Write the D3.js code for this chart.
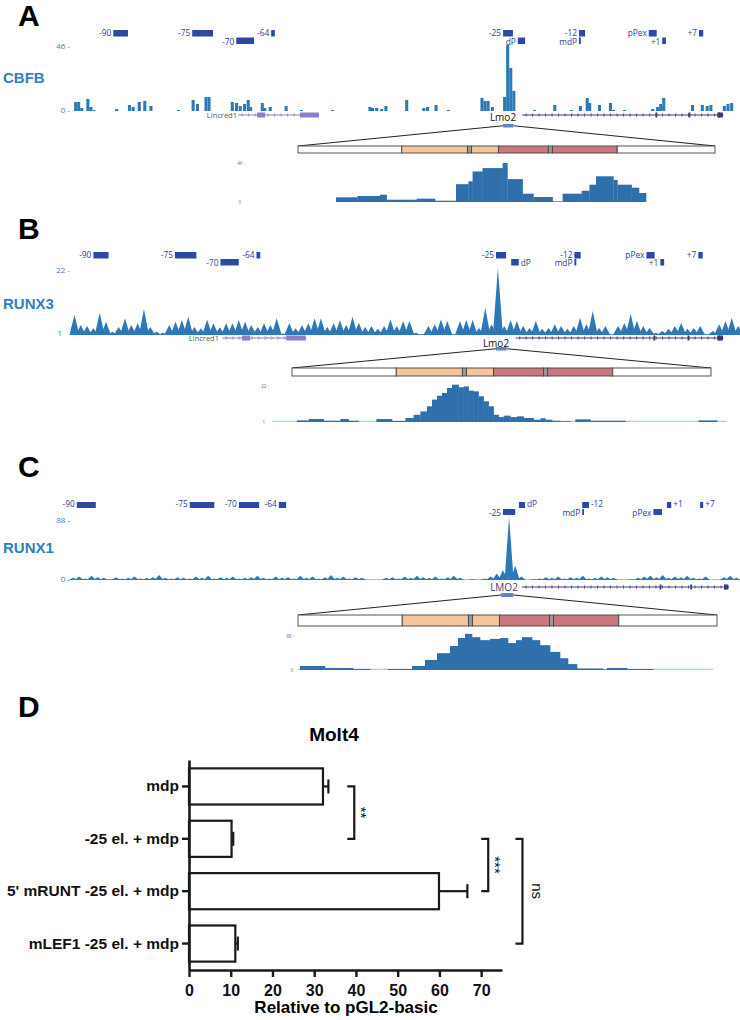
<!DOCTYPE html>
<html>
<head>
<meta charset="utf-8">
<script src="https://cdn.jsdelivr.net/npm/d3@7"></script>
<style>
  body { margin: 0; background: #fff; }
  svg { display: block; }
</style>
</head>
<body>
<div id="fig"></div>
<script>
// ---------------- data ----------------
// enhancer / promoter elements (kb from Lmo2 proximal promoter)
const enhNames = ['-90', '-75', '-70', '-64', '-25', 'dP', '-12', 'mdP', 'pPex', '+1', '+7'];
const mouseEnhStart = [-89.5, -76.6, -69.4, -63.7, -25.8, -23.4, -13.4, -13.4, -2.0, 0.2, 6.2];
const mouseEnhEnd   = [-87.1, -73.2, -66.5, -63.1, -24.2, -22.2, -12.4, -13.1, -0.7, 0.8, 6.9];
const humanEnhStart = [-95.4, -77.0, -69.0, -62.5, -26.0, -23.4, -13.1, -13.1, -1.5, 0.7, 6.1];
const humanEnhEnd   = [-92.3, -73.0, -65.7, -61.3, -24.0, -22.4, -12.0, -12.8, -0.1, 1.4, 6.6];

// gene models (kb)
const lincredSpan = [-69.1, -55.9];
const lincredExons = [[-66.0, -64.7], [-59.0, -55.9]];
const lmo2Span = [-22.7, 10.1];
const lmo2Exons = [[-0.9, -0.6], [4.5, 4.8], [9.2, 10.1]];
const humanLmo2Span = [-22.9, 10.7];
const humanLmo2Exons = [[-0.5, -0.2], [4.5, 4.8], [10.0, 10.7]];
const mouseZoom = [-25.8, -24.1];
const humanZoom = [-26.3, -24.3];

// CBFB ChIP-seq (0.5 kb bins: start kb, signal)
const cbfbStart = [-95.9, -95.4, -94.9, -93.9, -93.4, -92.9, -89.2, -87.1, -86.5, -85.5,
  -84.6, -83.6, -79.1, -76.7, -76.0, -74.6, -74.1, -70.3, -69.6, -69.0,
  -68.3, -67.7, -67.3, -65.4, -65.0, -64.1, -61.5, -59.0, -53.9, -47.8,
  -47.4, -46.7, -45.9, -45.2, -41.8, -39.0, -38.4, -37.0, -35.0, -29.5,
  -29.0, -28.5, -27.8, -25.8, -25.3, -24.8, -24.3, -20.9, -17.6,
  -14.9, -13.4, -12.3, -11.9, -10.3, -8.5, -8.0, -6.2, -1.6, -0.8,
  -0.3, 0.2, 4.9, 6.5, 7.3, 7.9, 10.1, 10.7, 11.3];
const cbfbValue = [6.3, 6.3, 2.1, 8.4, 2.8, 0.7, 1.4, 4.2, 2.8, 6.3,
  7.0, 3.5, 0.7, 7.7, 4.9, 9.8, 9.8, 6.3, 5.6, 3.5,
  4.9, 7.7, 2.8, 5.6, 2.1, 2.8, 3.5, 0.7, 0.7, 2.8,
  2.1, 2.1, 1.4, 3.5, 7.7, 2.1, 2.8, 4.2, 0.7, 9.1,
  7.0, 7.0, 2.8, 9.8, 46, 30, 14, 0.7, 4.2,
  0.7, 3.5, 9.1, 5.6, 4.2, 5.6, 0.7, 0.7, 1.4, 2.8,
  4.9, 9.1, 4.2, 4.2, 3.5, 4.2, 3.5, 4.9, 5.6];

// RUNX3 ChIP-seq, 1 kb bins from -93 kb
const runx3From = -93;
const runx3Values = [7.2, 4.1, 3.8, 3.1, 7.9, 5.1, 2.0, 3.5, 6.2, 4.1,
  4.6, 9.0, 3.5, 2.0, 1.7, 4.1, 5.1, 5.6, 6.6, 3.5,
  3.1, 5.8, 4.6, 3.4, 4.6, 4.6, 5.6, 5.1, 4.1, 3.5,
  4.6, 4.1, 6.2, 1.5, 4.6, 3.1, 4.1, 4.6, 6.2, 6.2,
  3.5, 4.6, 5.6, 4.1, 6.6, 4.8, 3.5, 3.8, 2.9, 3.8,
  5.9, 3.8, 5.3, 5.3, 1.7, 1.2, 3.8, 4.3, 5.9, 5.3,
  1.2, 5.3, 5.6, 5.6, 3.2, 9.3, 4.3, 21.7, 3.8, 5.6,
  5.3, 3.8, 3.2, 5.3, 2.9, 3.2, 4.3, 3.8, 2.9, 3.8,
  6.3, 4.3, 8.4, 3.2, 3.8, 1.2, 3.8, 4.7, 7.5, 5.3,
  3.8, 3.2, 1.7, 2.2, 2.9, 3.8, 4.7, 2.9, 3.2, 3.8,
  1.2, 2.2, 4.3, 5.3, 6.3, 3.8];

// RUNX1 ChIP-seq, 1 kb bins from -96.5 kb
const runx1From = -96.5;
const runx1Values = [3, 5, 2, 6, 4, 3, 1, 4, 2, 3,
  5, 2, 3, 4, 7, 3, 2, 4, 3, 2,
  5, 3, 6, 2, 4, 3, 5, 2, 3, 4,
  6, 3, 2, 5, 3, 4, 2, 6, 3, 5,
  2, 4, 7, 3, 5, 2, 4, 3, 0, 0,
  0, 3, 4, 2, 5, 3, 6, 4, 3, 5,
  2, 4, 6, 3, 0, 1, 0, 2, 5, 9,
  14, 88, 20, 5, 0, 1, 2, 4, 3, 5,
  2, 4, 3, 6, 2, 3, 5, 4, 3, 0,
  0, 1, 3, 5, 6, 4, 7, 3, 5, 4,
  6, 3, 2, 5, 0, 0, 4, 6, 3];

// -25 element close-ups (bp from start of view: step starts, signal)
const insetAStart = [0, 107, 220, 253, 403, 495, 600, 662, 683, 733, 833, 857, 933, 987, 1083, 1133, 1228, 1267, 1300, 1387, 1407, 1478, 1515];
const insetAValue = [5.5, 7.1, 8.6, 2.7, 3.9, 1.5, 21, 24.4, 36, 40, 46, 27, 9.8, 5.9, 0.8, 9.8, 13.3, 20.4, 30.3, 26, 20.4, 16.9, 10.6];
const insetAEnd = 1550;
const insetBStart = [0, 125, 183, 258, 342, 383, 433, 522, 600, 667, 708, 742, 775, 800, 825, 850, 875, 900, 933, 958,
  983, 1008, 1033, 1058, 1083, 1108, 1133, 1158, 1192, 1225, 1258, 1308, 1342, 1367, 1400, 1442, 1492, 1517, 1592, 1767, 2133, 2225];
const insetBValue = [1, 1.9, 2.7, 1.7, 2.7, 1.7, 1, 2.7, 1.6, 3.3, 5.1, 7.0, 9.9, 13.7, 15.9, 17.5, 20.3, 22.2, 20.7, 21.2,
  18.8, 18.4, 15.6, 12.7, 9.9, 5.1, 3.8, 4.6, 3.8, 4.2, 3.3, 2.3, 3.1, 2.3, 1.7, 1.4, 1, 2.5, 1.7, 1, 1.9, 1];
const insetBEnd = 2275;
const insetCStart = [0, 10, 135, 275, 360, 450, 570, 635, 695, 760, 800, 835, 870, 910, 960, 1010, 1050, 1090, 1120, 1170,
  1210, 1260, 1310, 1350, 1395, 1525, 1545, 1645, 1775];
const insetCValue = [0, 9.5, 4.8, 2.4, 0, 2.4, 9.5, 24, 40, 57, 76, 86, 78, 71, 74, 76, 64, 71, 78, 71,
  59, 43, 28, 14, 3.6, 1.2, 4.8, 2.4, 0];
const insetCEnd = 2075;

// -25 element sub-regions (bp)
const elementBounds = [0, 520, 850, 870, 1005, 1255, 1275, 1600, 2090];
const elementKinds = ['flank', 'a', 'site', 'a', 'b', 'site', 'b', 'flank'];

// luciferase assay, Molt4
const constructs = ['mdp', '-25 el. + mdp', "5' mRUNT -25 el. + mdp", 'mLEF1 -25 el. + mdp'];
const means = [32.1, 10.2, 59.9, 11.1];
const sems = [1.3, 0.4, 6.8, 0.6];
const xTicks = [0, 10, 20, 30, 40, 50, 60, 70];
const sigFrom = [0, 1, 1];
const sigTo = [1, 2, 3];
const sigAt = [39.6, 71.7, 79.9];
const sigText = ['**', '***', 'ns'];

// ---------------- drawing ----------------
const W = 740, H = 1020;
const svg = d3.select('#fig').append('svg').attr('width', W).attr('height', H);

const sans = "'Open Sans', 'DejaVu Sans', sans-serif";
const arial = "'Liberation Sans', Arial, sans-serif";
const trackBlue = '#2b79b9';
const insetBlue = '#2e6fac';
const navy = '#2e48a6';
const kindFill = { flank: '#ffffff', a: '#f4c59c', site: '#9b9b9b', b: '#c9787f' };

function panelLetter(t, y) {
  svg.append('text').attr('x', 18).attr('y', y)
    .style('font-family', arial).style('font-weight', 'bold').style('font-size', '30px')
    .text(t);
}

function factorLabel(t, y) {
  svg.append('text').attr('x', 3).attr('y', y)
    .style('font-family', arial).style('font-weight', 'bold').style('font-size', '15px')
    .style('fill', '#2f7fc1').text(t);
}

function scaleLabel(t, x, y, size) {
  svg.append('text').attr('x', x).attr('y', y).attr('text-anchor', 'end')
    .style('font-family', sans).style('font-size', size + 'px').style('fill', '#3d78b8')
    .text(t);
}

function enhancers(x, starts, ends, y1, y2, h, row2, right) {
  enhNames.forEach((n, i) => {
    const a = x(starts[i]), b = x(ends[i]);
    const second = row2.includes(n);
    const y = second ? y2 : y1;
    svg.append('rect').attr('x', a).attr('y', y)
      .attr('width', Math.max(1.6, b - a)).attr('height', h).attr('fill', navy);
    const r = right.includes(n);
    svg.append('text').attr('x', r ? b + 2 : a - 2).attr('y', second ? y + h + 0.5 : y + h - 0.8)
      .attr('text-anchor', r ? 'start' : 'end')
      .style('font-family', sans).style('font-size', '8.3px').style('fill', '#2d3d98')
      .text(n);
  });
}

function geneModel(x, span, exons, y, color, chevron, arrow) {
  const a = x(span[0]), b = x(span[1]);
  svg.append('line').attr('x1', a).attr('x2', b).attr('y1', y).attr('y2', y)
    .attr('stroke', color).attr('stroke-width', 1);
  const marks = d3.range(a + 4, b - 4, 6.5);
  svg.selectAll(null).data(marks).join('path')
    .attr('d', m => chevron
      ? `M${m - 1},${y - 1.6}L${m + 1},${y}L${m - 1},${y + 1.6}`
      : `M${m},${y - 1.6}L${m},${y + 1.6}`)
    .attr('fill', 'none').attr('stroke', color).attr('stroke-width', 0.8);
  svg.selectAll(null).data(exons).join('rect')
    .attr('x', d => x(d[0])).attr('width', d => Math.max(1.5, x(d[1]) - x(d[0])))
    .attr('y', y - 2.5).attr('height', 5).attr('fill', color);
  if (arrow) {
    svg.append('path').attr('d', `M${b - 4},${y - 3}L${b + 1},${y}L${b - 4},${y + 3}Z`).attr('fill', color);
  }
}

function geneName(t, x, y, size, color, anchor) {
  svg.append('text').attr('x', x).attr('y', y).attr('text-anchor', anchor)
    .style('font-family', sans).style('font-size', size + 'px').style('fill', color).text(t);
}

function spikeTrack(x, y, from, values, base, w) {
  svg.append('line').attr('x1', 70).attr('x2', 740).attr('y1', base - 0.5).attr('y2', base - 0.5)
    .attr('stroke', '#9cbfe0').attr('stroke-width', 1);
  svg.selectAll(null).data(values).join('path')
    .attr('d', (v, i) => {
      const xc = x(from + i + 0.5);
      return `M${xc - w / 2},${base}L${xc},${y(v)}L${xc + w / 2},${base}Z`;
    })
    .attr('fill', trackBlue);
}

function zoomDiagram(box, boxY, boxH, x0, x1, top, h) {
  const bp = d3.scaleLinear().domain([0, elementBounds[elementBounds.length - 1]]).range([x0, x1]);
  svg.append('line').attr('x1', box[0]).attr('y1', boxY + boxH / 2).attr('x2', x0).attr('y2', top)
    .attr('stroke', '#222').attr('stroke-width', 1);
  svg.append('line').attr('x1', box[1]).attr('y1', boxY + boxH / 2).attr('x2', x1).attr('y2', top)
    .attr('stroke', '#222').attr('stroke-width', 1);
  svg.append('rect').attr('x', box[0]).attr('y', boxY).attr('width', box[1] - box[0]).attr('height', boxH)
    .attr('fill', '#5b88c6');
  svg.selectAll(null).data(elementKinds).join('rect')
    .attr('x', (k, i) => bp(elementBounds[i]))
    .attr('width', (k, i) => bp(elementBounds[i + 1]) - bp(elementBounds[i]))
    .attr('y', top).attr('height', h)
    .attr('fill', k => kindFill[k]).attr('stroke', '#444').attr('stroke-width', 0.9);
}

function inset(x0, x1, base, top, yDom, starts, values, end, withLine) {
  const bx = d3.scaleLinear().domain([0, end]).range([x0, x1]);
  const by = d3.scaleLinear().domain(yDom).range([base, top]);
  if (withLine) {
    svg.append('line').attr('x1', x0).attr('x2', x1).attr('y1', base - 0.6).attr('y2', base - 0.6)
      .attr('stroke', '#a9c8e6').attr('stroke-width', 1.3);
  }
  svg.selectAll(null).data(values).join('rect')
    .attr('x', (v, i) => bx(starts[i]))
    .attr('width', (v, i) => bx(i + 1 < starts.length ? starts[i + 1] : end) - bx(starts[i]) + 0.3)
    .attr('y', v => by(v)).attr('height', v => base - by(v))
    .attr('fill', insetBlue);
}

// ----- Panel A : CBFB -----
panelLetter('A', 26);
const xA = d3.scaleLinear().domain([-96.57, 12.91]).range([70, 740]);
const yA = d3.scaleLinear().domain([0, 46]).range([111, 45]);
enhancers(xA, mouseEnhStart, mouseEnhEnd, 30, 37.5, 6.5, ['-70', 'dP', 'mdP', '+1'], []);
scaleLabel('46 -', 70, 49, 8);
scaleLabel('0 -', 70, 113, 8);
factorLabel('CBFB', 83);
svg.selectAll(null).data(cbfbStart).join('rect')
  .attr('x', d => xA(d)).attr('width', d => xA(d + 0.5) - xA(d))
  .attr('y', (d, i) => yA(cbfbValue[i])).attr('height', (d, i) => 111 - yA(cbfbValue[i]))
  .attr('fill', trackBlue);
geneName('Lincred1', 237, 118, 7.5, '#555', 'end');
geneModel(xA, lincredSpan, lincredExons, 115, '#8b80c9', false, false);
geneName('Lmo2', 503, 121, 10, '#111', 'middle');
geneModel(xA, lmo2Span, lmo2Exons, 115, '#3b3a6e', false, true);
zoomDiagram([xA(mouseZoom[0]), xA(mouseZoom[1])], 124, 3.5, 298, 715, 146, 7);
inset(336, 646, 202, 163, [0, 46], insetAStart, insetAValue, insetAEnd, false);
scaleLabel('46 -', 245, 165, 4.5);
scaleLabel('0', 241, 204, 4.5);

// ----- Panel B : RUNX3 -----
panelLetter('B', 239);
const xB = d3.scaleLinear().domain([-93.2, 12.8]).range([70, 740]);
const yB = d3.scaleLinear().domain([1, 22]).range([335, 267]);
enhancers(xB, mouseEnhStart, mouseEnhEnd, 252, 259, 6.5, ['-70', 'dP', 'mdP', '+1'], ['dP']);
scaleLabel('22 -', 70, 273, 8);
scaleLabel('1', 62, 336, 8);
factorLabel('RUNX3', 309);
spikeTrack(xB, yB, runx3From, runx3Values, 335, 10);
geneName('Lincred1', 219, 341, 7.5, '#555', 'end');
geneModel(xB, lincredSpan, lincredExons, 338, '#8b80c9', true, false);
geneName('Lmo2', 496, 347, 10, '#111', 'middle');
geneModel(xB, lmo2Span, lmo2Exons, 338, '#3b3a6e', false, true);
zoomDiagram([xB(mouseZoom[0]), xB(mouseZoom[1])], 347, 3.5, 292, 711, 368, 8);
inset(272, 727, 422, 385, [1, 22], insetBStart, insetBValue, insetBEnd, true);
scaleLabel('22 -', 269, 388, 4.5);
scaleLabel('1', 265, 424, 4.5);

// ----- Panel C : RUNX1 -----
panelLetter('C', 477);
const xC = d3.scaleLinear().domain([-96.5, 12.6]).range([70, 740]);
const yC = d3.scaleLinear().domain([0, 88]).range([580, 517]);
enhancers(xC, humanEnhStart, humanEnhEnd, 502, 509, 6, ['-25', 'mdP', 'pPex'], ['dP', '-12', '+1', '+7']);
scaleLabel('88 -', 70, 523, 8);
scaleLabel('0 -', 70, 582, 8);
factorLabel('RUNX1', 553);
spikeTrack(xC, yC, runx1From, runx1Values, 580, 9);
geneName('LMO2', 504, 591, 10, '#3b3b7a', 'middle');
geneModel(xC, humanLmo2Span, humanLmo2Exons, 587, '#3b3a8c', false, true);
zoomDiagram([xC(humanZoom[0]), xC(humanZoom[1])], 593, 4, 298, 717, 615, 11);
inset(298, 713, 670, 633, [0, 88], insetCStart, insetCValue, insetCEnd, true);
scaleLabel('88 -', 294, 638, 4.5);
scaleLabel('0', 293, 672, 4.5);

// ----- Panel D : luciferase bars -----
panelLetter('D', 717);
const xD = d3.scaleLinear().domain([0, 75]).range([189, 502]);
const yD = d3.scaleBand().domain(constructs).range([760, 970]).paddingInner(0.31).paddingOuter(0.16);
const ink = '#1a1a1a';

svg.append('text').attr('x', 334).attr('y', 741).attr('text-anchor', 'middle')
  .style('font-family', arial).style('font-weight', 'bold').style('font-size', '19px')
  .text('Molt4');

const gD = svg.append('g');
gD.selectAll('rect.bar').data(constructs).join('rect').attr('class', 'bar')
  .attr('x', xD(0)).attr('y', d => yD(d))
  .attr('width', (d, i) => xD(means[i]) - xD(0)).attr('height', yD.bandwidth())
  .attr('fill', '#fff').attr('stroke', ink).attr('stroke-width', 2.2);
gD.selectAll('line.err').data(constructs).join('line').attr('class', 'err')
  .attr('x1', (d, i) => xD(means[i])).attr('x2', (d, i) => xD(means[i] + sems[i]))
  .attr('y1', d => yD(d) + yD.bandwidth() / 2).attr('y2', d => yD(d) + yD.bandwidth() / 2)
  .attr('stroke', ink).attr('stroke-width', 2.2);
gD.selectAll('line.cap').data(constructs).join('line').attr('class', 'cap')
  .attr('x1', (d, i) => xD(means[i] + sems[i])).attr('x2', (d, i) => xD(means[i] + sems[i]))
  .attr('y1', d => yD(d) + yD.bandwidth() / 2 - 7).attr('y2', d => yD(d) + yD.bandwidth() / 2 + 7)
  .attr('stroke', ink).attr('stroke-width', 2.2);

const yAxis = svg.append('g').attr('transform', `translate(${xD(0)},0)`)
  .call(d3.axisLeft(yD).tickSize(7).tickSizeOuter(0).tickPadding(3));
const xAxis = svg.append('g').attr('transform', 'translate(0,970)')
  .call(d3.axisBottom(xD).tickValues(xTicks).tickSize(7).tickSizeOuter(0).tickPadding(8));
[yAxis, xAxis].forEach(ax => {
  ax.select('.domain').attr('stroke', ink).attr('stroke-width', 2.6);
  ax.selectAll('.tick line').attr('stroke', ink).attr('stroke-width', 2.4);
  ax.selectAll('.tick text').attr('fill', '#111')
    .style('font-family', arial).style('font-weight', 'bold');
});
yAxis.selectAll('.tick text').style('font-size', '15.5px');
xAxis.selectAll('.tick text').style('font-size', '16px');

svg.append('text').attr('x', 346).attr('y', 1013).attr('text-anchor', 'middle')
  .style('font-family', arial).style('font-weight', 'bold').style('font-size', '17px')
  .text('Relative to pGL2-basic');

// significance brackets
sigText.forEach((t, i) => {
  const bx = xD(sigAt[i]);
  const y1 = yD(constructs[sigFrom[i]]) + yD.bandwidth() / 2;
  const y2 = yD(constructs[sigTo[i]]) + yD.bandwidth() / 2;
  svg.append('path').attr('d', `M${bx - 7},${y1}H${bx}V${y2}H${bx - 7}`)
    .attr('fill', 'none').attr('stroke', ink).attr('stroke-width', 2.2);
  const off = t === 'ns' ? 10 : 2;
  svg.append('text').attr('transform', `translate(${bx + off},${(y1 + y2) / 2}) rotate(90)`)
    .attr('text-anchor', 'middle')
    .style('font-family', arial).style('font-size', '15px').style('fill', '#111')
    .text(t);
});
</script>
</body>
</html>
